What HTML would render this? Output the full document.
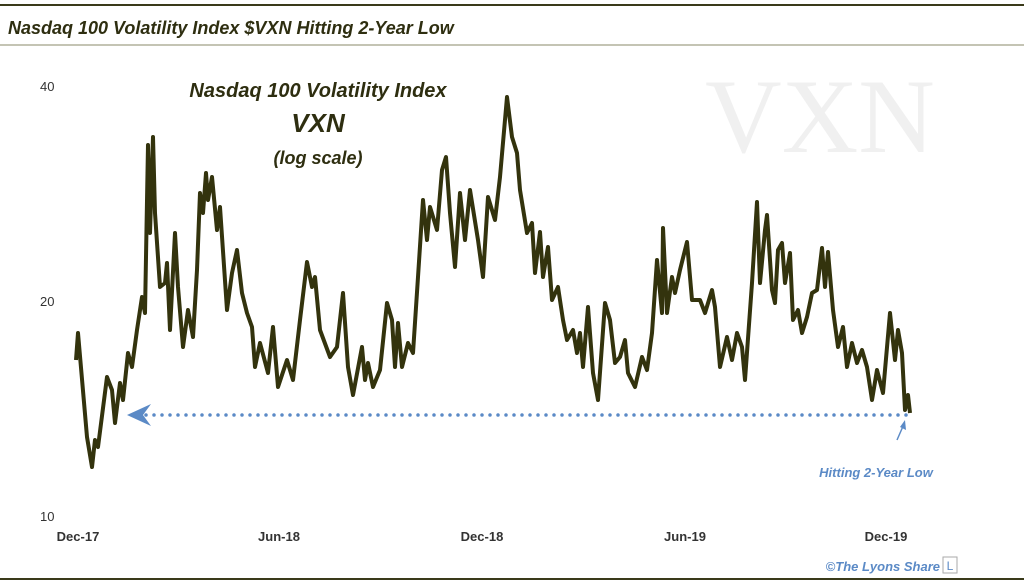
<!DOCTYPE html>
<html><head><meta charset="utf-8"><style>
body{margin:0;background:#fff;width:1024px;height:585px;overflow:hidden}
svg{display:block}
</style></head><body>
<svg width="1024" height="585" viewBox="0 0 1024 585" xmlns="http://www.w3.org/2000/svg">
<line x1="0" y1="5" x2="1024" y2="5" stroke="#3a3a1a" stroke-width="2"/>
<text x="8" y="34" font-family="Liberation Sans, sans-serif" font-weight="bold" font-style="italic" font-size="18" fill="#2e2e10">Nasdaq 100 Volatility Index $VXN Hitting 2-Year Low</text>
<line x1="0" y1="45" x2="1024" y2="45" stroke="#8a8a6a" stroke-width="1"/>
<text x="820" y="152" text-anchor="middle" font-family="Liberation Serif, serif" font-size="106" fill="#f0f0f0">VXN</text>
<g font-family="Liberation Sans, sans-serif" font-size="13" fill="#333">
<text x="40" y="91">40</text><text x="40" y="306">20</text><text x="40" y="521">10</text>
</g>
<g font-family="Liberation Sans, sans-serif" font-weight="bold" font-size="13" fill="#333" text-anchor="middle">
<text x="78" y="541">Dec-17</text><text x="279" y="541">Jun-18</text><text x="482" y="541">Dec-18</text><text x="685" y="541">Jun-19</text><text x="886" y="541">Dec-19</text>
</g>
<g font-family="Liberation Sans, sans-serif" font-weight="bold" font-style="italic" fill="#2e2e10" text-anchor="middle">
<text x="318" y="97" font-size="20">Nasdaq 100 Volatility Index</text>
<text x="318" y="132" font-size="26">VXN</text>
<text x="318" y="164" font-size="18">(log scale)</text>
</g>
<line x1="146" y1="415" x2="912" y2="415" stroke="#5b8ac6" stroke-width="3.5" stroke-dasharray="0 8" stroke-linecap="round"/>
<path d="M127 415 L151 404 L143 415 L151 426 Z" fill="#5b8ac6"/>
<line x1="897" y1="440" x2="904" y2="424" stroke="#5b8ac6" stroke-width="1.5"/>
<path d="M905 420 L906 430 L900 427 Z" fill="#5b8ac6"/>
<text x="876" y="477" text-anchor="middle" font-family="Liberation Sans, sans-serif" font-weight="bold" font-style="italic" font-size="13" fill="#5b8ac6">Hitting 2-Year Low</text>
<polyline fill="none" stroke="#33330d" stroke-width="4" stroke-linejoin="round" points="76,360 78,333 87,437 92,467 95,440 98,447 107,377 112,390 115,423 120,383 123,400 128,353 132,367 137,330 142,297 145,313 148,145 150,233 153,137 155,213 160,287 165,283 167,263 170,330 175,233 178,287 183,347 188,310 193,337 197,270 200,193 203,213 206,173 208,200 212,177 217,230 220,207 227,310 232,273 237,250 242,293 247,313 252,327 255,367 260,343 268,373 273,327 278,387 287,360 293,380 300,320 307,262 312,287 315,277 320,330 330,357 337,347 343,293 348,367 353,395 362,347 365,380 368,363 373,387 380,370 387,303 392,320 395,367 398,323 402,367 408,343 413,353 418,277 423,200 427,240 430,207 437,230 442,170 446,157 450,213 455,267 460,193 465,240 470,190 478,240 483,277 488,197 495,220 500,177 507,97 512,137 517,153 520,190 527,233 532,223 535,273 540,232 543,277 548,247 552,300 558,287 563,320 567,340 573,330 577,353 580,333 583,367 588,307 593,373 598,400 605,303 610,320 615,363 620,357 625,340 628,373 635,387 642,357 647,370 652,333 657,260 662,313 663,228 667,313 672,277 675,293 680,270 687,242 692,300 700,300 705,313 712,290 715,307 720,367 727,337 732,360 737,333 742,347 745,380 752,283 757,202 760,283 765,230 767,215 772,290 775,303 778,250 782,243 785,283 790,253 793,320 798,310 802,333 807,317 812,293 817,290 822,248 825,287 828,252 833,310 838,347 843,327 847,367 852,343 857,363 862,350 867,367 872,400 877,370 883,393 890,313 895,360 898,330 902,353 905,410 908,395 910,413"/>
<text x="940" y="571" text-anchor="end" font-family="Liberation Sans, sans-serif" font-weight="bold" font-style="italic" font-size="13" fill="#5b8ac6">©The Lyons Share</text>
<rect x="943" y="557" width="14" height="16" fill="#fff" stroke="#aaa" stroke-width="1"/>
<text x="950" y="570" text-anchor="middle" font-family="Liberation Sans, sans-serif" font-size="12" fill="#5b8ac6">L</text>
<line x1="0" y1="579" x2="1024" y2="579" stroke="#3a3a1a" stroke-width="2"/>
</svg>
</body></html>
